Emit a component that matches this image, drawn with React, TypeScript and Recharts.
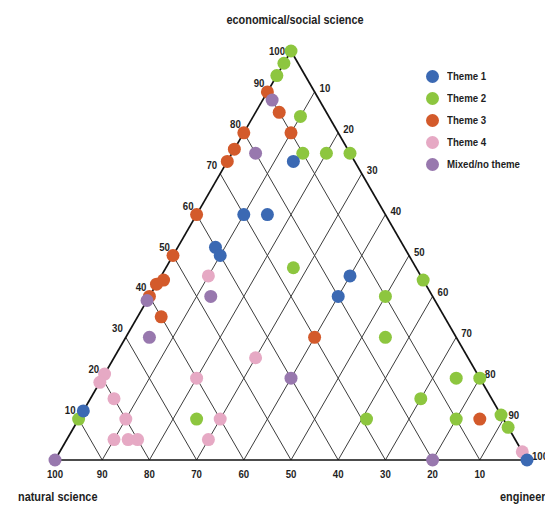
import React from 'react';
import { ScatterChart, Scatter, XAxis, YAxis, ReferenceLine, Legend } from 'recharts';

// shares in % as [economical/social science, engineering]; natural science is the rest
const theme1 = [[73, 14], [60, 10], [60, 15], [52, 8], [50, 10], [45, 40], [40, 40], [12, 0], [0, 100]];
const theme2 = [
  [100, 0], [97, 0], [94, 0], [84, 10], [75, 15], [75, 20], [75, 25], [47, 27], [44, 56], [40, 50],
  [30, 55], [20, 75], [20, 80], [15, 70], [10, 25], [10, 61], [10, 80], [11, 89], [8, 92], [10, 0],
];
const theme3 = [
  [90, 0], [85, 5], [80, 10], [80, 0], [76, 0], [73, 0], [60, 0], [50, 0], [44, 1], [43, 0],
  [40, 0], [35, 5], [30, 40], [10, 85],
];
const theme4 = [
  [45, 10], [25, 30], [21, 0], [19, 0], [20, 20], [15, 5], [10, 10], [10, 30], [5, 10], [5, 13],
  [5, 15], [5, 30], [2, 98],
];
const mixed = [[88, 2], [75, 5], [40, 13], [39, 0], [30, 5], [20, 40], [0, 0], [0, 80]];

const seriesNames = ['Theme 1', 'Theme 2', 'Theme 3', 'Theme 4', 'Mixed/no theme'];
const seriesColors = ['#3b69b3', '#8dc63f', '#d35a2b', '#e6a9c4', '#9878ae'];
const seriesData = [theme1, theme2, theme3, theme4, mixed];
// later in this list = painted on top
const drawOrder = [1, 2, 3, 4, 0];

const tickValues = [10, 20, 30, 40, 50, 60, 70, 80, 90, 100];
const gridValues = [10, 20, 30, 40, 50, 60, 70, 80, 90];

const H = Math.sqrt(3) / 2;
const FONT = "'Liberation Sans', Arial, sans-serif";
const SQUEEZE = 0.84; // the original uses a condensed bold face

if (typeof document !== 'undefined') document.body.style.margin = '0';

const toXY = (econ: number, eng: number) => ({ x: eng + econ / 2, y: econ * H });

const tickPoints = [
  ...tickValues.map((v) => ({ ...toXY(0, 100 - v), label: v, side: 'bottom' })),
  ...tickValues.map((v) => ({ ...toXY(v, 0), label: v, side: 'left' })),
  ...tickValues.map((v) => ({ ...toXY(100 - v, v), label: v, side: 'right' })),
];

const NarrowText = ({ x, y, anchor = 'start', size = 11.5, children }: any) => (
  <text
    transform={`translate(${x},${y}) scale(${SQUEEZE},1)`}
    textAnchor={anchor}
    fontFamily={FONT}
    fontWeight="bold"
    fontSize={size}
    fill="#1e1e1e"
  >
    {children}
  </text>
);

const TickLabel = (props: any) => {
  const { cx, cy, payload } = props;
  if (payload.side === 'bottom') {
    return <NarrowText x={cx} y={cy + 18} anchor="middle">{payload.label}</NarrowText>;
  }
  if (payload.side === 'left') {
    const top = payload.label === 100;
    return (
      <NarrowText x={cx - (top ? 6 : 3)} y={cy + (top ? 4 : -5)} anchor="end">
        {payload.label}
      </NarrowText>
    );
  }
  return <NarrowText x={cx + 5} y={cy} anchor="start">{payload.label}</NarrowText>;
};

const renderLegend = (props: any) => {
  const items = (props.payload || [])
    .filter((e: any) => seriesNames.includes(e.value))
    .sort((a: any, b: any) => seriesNames.indexOf(a.value) - seriesNames.indexOf(b.value));
  return (
    <div>
      {items.map((entry: any) => (
        <div key={entry.value} style={{ display: 'flex', alignItems: 'center', height: 22 }}>
          <svg width={13} height={13} style={{ flex: 'none' }}>
            <circle cx={6.5} cy={6.5} r={6.5} fill={entry.color} />
          </svg>
          <span
            style={{
              display: 'inline-block',
              marginLeft: 8,
              whiteSpace: 'nowrap',
              transform: `scaleX(${SQUEEZE})`,
              transformOrigin: 'left center',
              fontFamily: FONT,
              fontWeight: 'bold',
              fontSize: 11.5,
              color: '#1e1e1e',
            }}
          >
            {entry.value}
          </span>
        </div>
      ))}
    </div>
  );
};

export default function App() {
  return (
    <ScatterChart width={545} height={505} margin={{ top: 51, right: 18, bottom: 45, left: 55 }}>
      <XAxis type="number" dataKey="x" domain={[0, 100]} hide />
      <YAxis type="number" dataKey="y" domain={[0, 100 * H]} hide />

      {gridValues.map((g) => (
        <ReferenceLine key={`eng-${g}`} segment={[toXY(0, g), toXY(100 - g, g)]} stroke="#3c3c3c" strokeWidth={1} ifOverflow="visible" />
      ))}
      {gridValues.map((n) => (
        <ReferenceLine key={`nat-${n}`} segment={[toXY(0, 100 - n), toXY(100 - n, 0)]} stroke="#3c3c3c" strokeWidth={1} ifOverflow="visible" />
      ))}
      <ReferenceLine segment={[toXY(0, 0), toXY(0, 100)]} stroke="#111" strokeWidth={1.7} ifOverflow="visible" />
      <ReferenceLine segment={[toXY(0, 0), toXY(100, 0)]} stroke="#111" strokeWidth={1.7} ifOverflow="visible" />
      <ReferenceLine segment={[toXY(100, 0), toXY(0, 100)]} stroke="#111" strokeWidth={1.7} ifOverflow="visible" />

      <Scatter data={tickPoints} legendType="none" shape={TickLabel} isAnimationActive={false} />

      {drawOrder.map((i) => (
        <Scatter
          key={seriesNames[i]}
          name={seriesNames[i]}
          data={seriesData[i].map(([econ, eng]) => toXY(econ, eng))}
          fill={seriesColors[i]}
          shape={(p: any) => <circle cx={p.cx} cy={p.cy} r={6.5} fill={seriesColors[i]} />}
          isAnimationActive={false}
        />
      ))}

      <Legend
        layout="vertical"
        align="center"
        verticalAlign="middle"
        content={renderLegend}
        wrapperStyle={{ left: 426, top: 65, width: 120 }}
      />

      <NarrowText x={295} y={24} anchor="middle" size={13}>economical/social science</NarrowText>
      <NarrowText x={18} y={501} size={13}>natural science</NarrowText>
      <NarrowText x={500} y={501} size={13}>engineering</NarrowText>
    </ScatterChart>
  );
}
